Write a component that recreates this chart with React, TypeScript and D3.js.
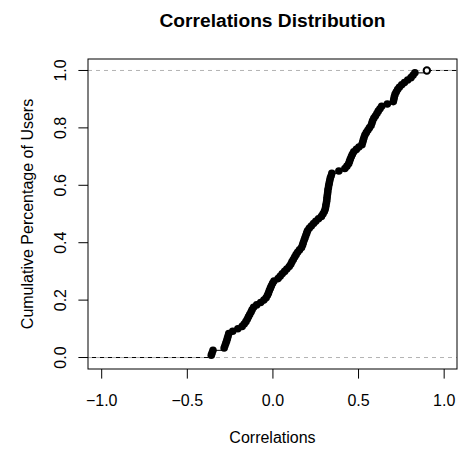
import * as d3 from "d3";

// sorted per-user correlations
const correlations = [
  -0.36, -0.355, -0.35, -0.285, -0.28, -0.275, -0.27, -0.266, -0.262, -0.258,
  -0.235, -0.205, -0.18, -0.168, -0.158, -0.15, -0.143, -0.136, -0.128, -0.122,
  -0.113, -0.095, -0.072, -0.053, -0.04, -0.032, -0.026, -0.021, -0.015, -0.009,
  -0.002, 0.006, 0.03, 0.042, 0.054, 0.068, 0.081, 0.095, 0.104, 0.111,
  0.119, 0.127, 0.135, 0.144, 0.155, 0.167, 0.173, 0.177, 0.182, 0.187,
  0.192, 0.197, 0.202, 0.212, 0.224, 0.237, 0.25, 0.266, 0.283, 0.292,
  0.3, 0.305, 0.308, 0.31, 0.313, 0.315, 0.316, 0.318, 0.32, 0.321,
  0.324, 0.326, 0.329, 0.332, 0.335, 0.34, 0.344, 0.385, 0.42, 0.432,
  0.442, 0.447, 0.452, 0.458, 0.464, 0.472, 0.487, 0.502, 0.52, 0.524,
  0.528, 0.532, 0.537, 0.545, 0.554, 0.563, 0.573, 0.578, 0.582, 0.589,
  0.598, 0.607, 0.615, 0.625, 0.635, 0.668, 0.703, 0.706, 0.709, 0.713,
  0.72, 0.728, 0.738, 0.752, 0.768, 0.787, 0.806, 0.818, 0.829, 0.899,
];

const xTicks = [-1, -0.5, 0, 0.5, 1];
const yTicks = [0, 0.2, 0.4, 0.6, 0.8, 1];
const refLines = [0, 1];

const title = "Correlations Distribution";
const xLabel = "Correlations";
const yLabel = "Cumulative Percentage of Users";

const W = 460;
const H = 450;
const box = { left: 88, right: 457, top: 59, bottom: 369 };
const font = "'Liberation Sans', Arial, Helvetica, sans-serif";

export default function App() {
  const x = d3.scaleLinear().domain([-1.08, 1.075]).range([box.left, box.right]);
  const y = d3.scaleLinear().domain([-0.04, 1.04]).range([box.bottom, box.top]);

  const n = correlations.length;
  const pts = correlations.map((v, i) => ({ v, f: (i + 1) / n }));

  // horizontal steps of the ecdf
  const steps = [
    { x1: box.left, x2: x(correlations[0]), f: 0 },
    ...pts.map((p, i) => ({
      x1: x(p.v),
      x2: i < n - 1 ? x(correlations[i + 1]) : box.right,
      f: p.f,
    })),
  ];

  const fmt = d3.format(".1f");
  const fmtX = (d: number) => fmt(d).replace("-", "\u2212");

  return (
    <svg
      width={W}
      height={H}
      style={{ position: "absolute", left: 0, top: 0, background: "#fff" }}
      fontFamily={font}
    >
      <text x={(box.left + box.right) / 2} y={27} textAnchor="middle" fontSize={19.2} fontWeight="bold">
        {title}
      </text>

      {steps.map((s, i) => (
        <line key={"s" + i} x1={s.x1} x2={s.x2} y1={y(s.f)} y2={y(s.f)} stroke="#000" strokeWidth={1} />
      ))}

      {refLines.map((r) => (
        <line
          key={"r" + r}
          x1={box.left}
          x2={box.right}
          y1={y(r)}
          y2={y(r)}
          stroke="#b3b3b3"
          strokeDasharray="4,4"
        />
      ))}

      {pts.slice(0, n - 1).map((p, i) => (
        <circle key={"p" + i} cx={x(p.v)} cy={y(p.f)} r={3.8} fill="#000" />
      ))}
      <circle cx={x(pts[n - 1].v)} cy={y(1)} r={3.2} fill="#fff" stroke="#000" strokeWidth={2} />

      <rect
        x={box.left}
        y={box.top}
        width={box.right - box.left}
        height={box.bottom - box.top}
        fill="none"
        stroke="#000"
      />

      {xTicks.map((t) => (
        <g key={"x" + t}>
          <line x1={x(t)} x2={x(t)} y1={box.bottom} y2={box.bottom + 9.6} stroke="#000" />
          <text x={x(t)} y={406} textAnchor="middle" fontSize={16}>
            {fmtX(t)}
          </text>
        </g>
      ))}

      {yTicks.map((t) => (
        <g key={"y" + t}>
          <line x1={box.left} x2={box.left - 9.6} y1={y(t)} y2={y(t)} stroke="#000" />
          <text
            transform={`translate(65.5,${y(t)}) rotate(-90)`}
            textAnchor="middle"
            fontSize={16}
          >
            {fmt(t)}
          </text>
        </g>
      ))}

      <text x={(box.left + box.right) / 2} y={443} textAnchor="middle" fontSize={16}>
        {xLabel}
      </text>
      <text
        transform={`translate(33,${(box.top + box.bottom) / 2}) rotate(-90)`}
        textAnchor="middle"
        fontSize={16}
      >
        {yLabel}
      </text>
    </svg>
  );
}
